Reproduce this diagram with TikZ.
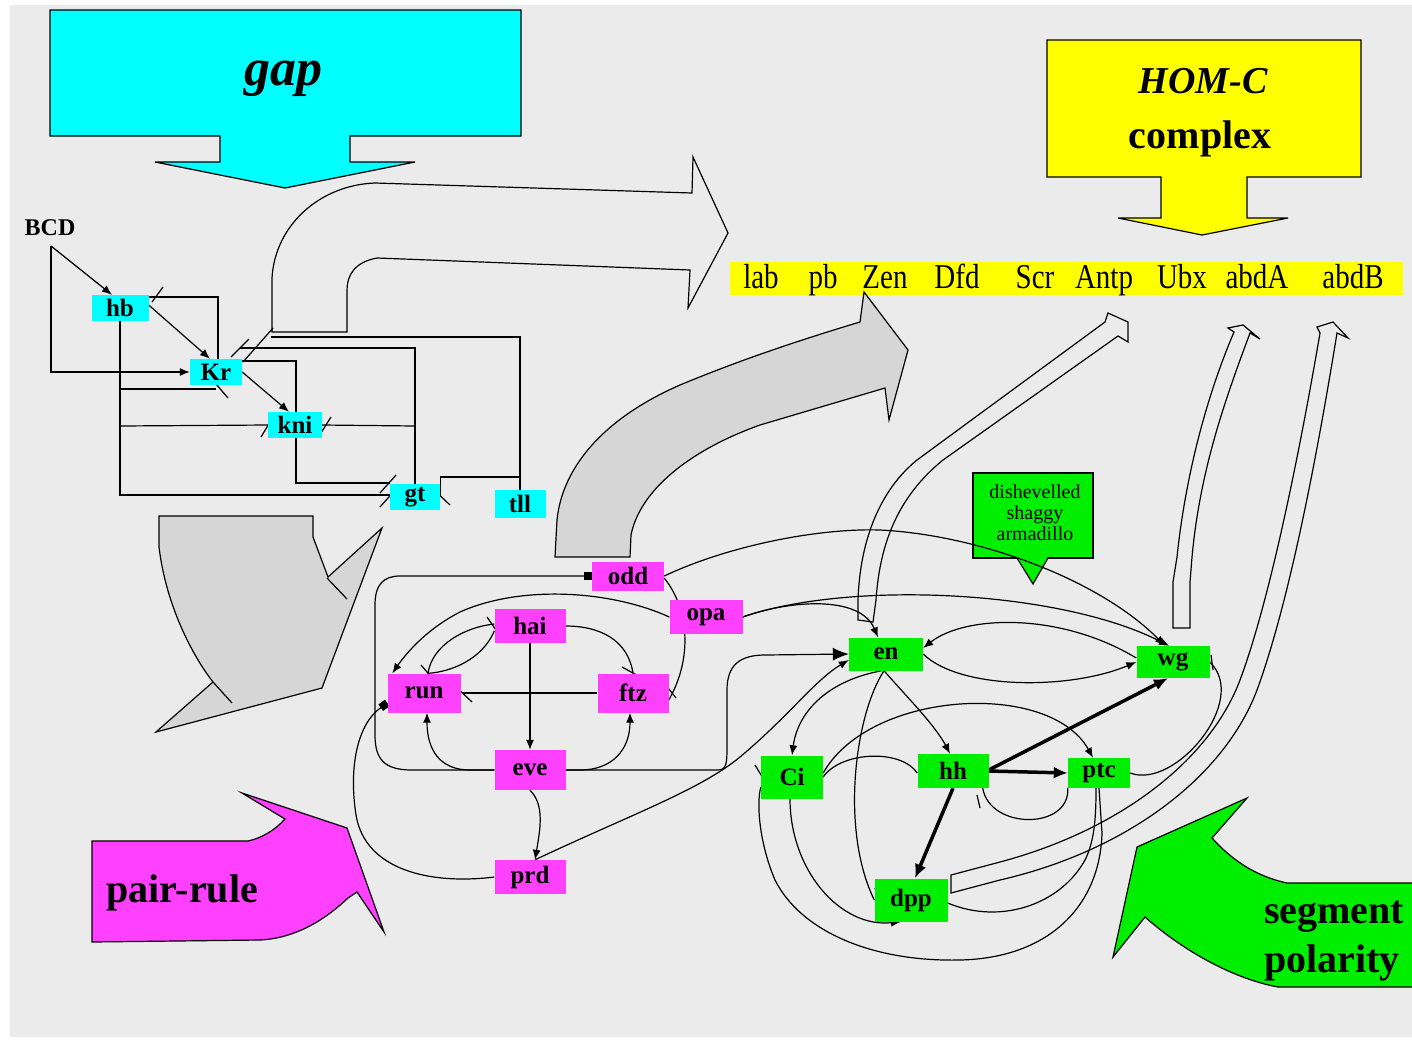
\documentclass[tikz,border=0pt]{standalone}
\usepackage{fontspec}
\setmainfont{Liberation Serif}
\usetikzlibrary{arrows.meta,calc}
\definecolor{bgc}{HTML}{EBEBEB}
\definecolor{cyanc}{HTML}{00FFFF}
\definecolor{yelc}{HTML}{FFFF00}
\definecolor{magc}{HTML}{FF40FF}
\definecolor{grnc}{HTML}{00EE00}
\definecolor{grayc}{HTML}{D6D6D6}
\pgfdeclarelayer{back}
\pgfdeclarelayer{lines}
\pgfsetlayers{back,lines,main}
\newcommand\nfont{\bfseries\fontsize{25}{25}\selectfont}
\newcommand\tallw[1]{\scalebox{1}[1.2]{#1}}
\begin{document}
\begin{tikzpicture}[x=1pt,y=-1pt,
  box/.style 2 args={inner sep=0pt, minimum width=#1, minimum height=#2, font=\nfont},
  gapbox/.style={fill=cyanc},
  prbox/.style={fill=magc},
  spbox/.style={fill=grnc},
  ln/.style={draw=black, line width=1.2pt},
  ar/.style={ln, -{Latex[length=10pt,width=8pt]}},
  bigar/.style={ln, -{Latex[length=16pt,width=13pt]}},
  tar/.style={draw=black, line width=3.5pt, -{Latex[length=14pt,width=12pt]}},
  sq/.style={ln, -{Square[length=8pt,width=8pt]}},
  tk/.style={draw=black, line width=1.2pt},
  shp/.style={draw=black, line width=1.2pt},
  lbl/.style={inner sep=0pt, anchor=base},
]
\useasboundingbox (0,0) rectangle (1412,1039);

% ---------------- nodes ----------------
\node[box={57pt}{26pt},gapbox] (hb) at (120,308) {hb};
\node[box={52pt}{26pt},gapbox] (Kr) at (216,372) {Kr};
\node[box={54pt}{26pt},gapbox] (kni) at (295,425) {kni};
\node[box={50pt}{26pt},gapbox] (gt) at (415,497) {gt};
\node[box={51pt}{28pt},gapbox] (tll) at (520,504) {tll};
\node[lbl, font=\bfseries\fontsize{24}{24}\selectfont] (bcd) at (50,235) {BCD};
\coordinate (bcdc) at (51,246);

\node[box={72pt}{29pt},prbox] (odd) at (628,576) {odd};
\node[box={73pt}{34pt},prbox] (opa) at (706,617) {opa};
\node[box={71pt}{34pt},prbox] (hai) at (530,626) {hai};
\node[box={73pt}{39pt},prbox] (run) at (424,693) {run};
\node[box={71pt}{39pt},prbox] (ftz) at (633,693) {ftz};
\node[box={71pt}{40pt},prbox] (eve) at (530,770) {eve};
\node[box={71pt}{34pt},prbox] (prd) at (530,877) {prd};

\node[box={74pt}{33pt},spbox] (en) at (886,654) {en};
\node[box={73pt}{32pt},spbox] (wg) at (1173,662) {wg};
\node[box={62pt}{43pt},spbox] (Ci) at (792,777) {Ci};
\node[box={71pt}{34pt},spbox] (hh) at (953,771) {hh};
\node[box={62pt}{30pt},spbox] (ptc) at (1099,773) {ptc};
\node[box={73pt}{43pt},spbox] (dpp) at (911,900) {dpp};

% ---------------- background shapes ----------------
\begin{pgfonlayer}{back}
\fill[white] (0,0) rectangle (1412,1039);
\fill[bgc] (10,5) rectangle (1412,1037);
% gap arrow
\draw[shp, fill=cyanc] (50,10) -- (521,10) -- (521,136) -- (350,136) -- (350,162) -- (415,162) -- (285,188) -- (155,162) -- (220,162) -- (220,136) -- (50,136) -- cycle;
\node[lbl, font=\bfseries\itshape\fontsize{52}{52}\selectfont] (gaptxt) at (283,85) {gap};
% HOM-C arrow
\draw[shp, fill=yelc] (1047,40) -- (1361,40) -- (1361,177) -- (1247,177) -- (1247,218) -- (1288,218) -- (1202,235) -- (1118,218) -- (1161,218) -- (1161,177) -- (1047,177) -- cycle;
\node[lbl, font=\bfseries\itshape\fontsize{38}{38}\selectfont] (homc) at (1203,93) {HOM-C};
\node[lbl, font=\bfseries\fontsize{40}{40}\selectfont] (cplx) at (1200,148) {complex};
% yellow bar
\fill[yelc] (730,262) rectangle (1403,295);
\begin{scope}[every node/.style={lbl, font=\fontsize{29}{29}\selectfont}]
\node (lab) at (761,288) {\tallw{lab}};
\node (pb) at (823,288) {\tallw{pb}};
\node (zen) at (885,288) {\tallw{Zen}};
\node (dfd) at (957,288) {\tallw{Dfd}};
\node (scr) at (1035,288) {\tallw{Scr}};
\node (antp) at (1104,288) {\tallw{Antp}};
\node (ubx) at (1182,288) {\tallw{Ubx}};
\node (abda) at (1257,288) {\tallw{abdA}};
\node (abdb) at (1353,288) {\tallw{abdB}};
\end{scope}
% hollow arrow gap -> HOM-C
\draw[shp] (272,332) -- (272,278) .. controls (275,225) and (320,185) .. (375,183) -- (692,193) -- (693,157) -- (728,233) -- (688,308) -- (690,270) -- (377,258) .. controls (355,262) and (347,275) .. (347,290) -- (347,332) -- cycle;
% gray middle arrow
\draw[shp, fill=grayc] (555,557) -- (557,520) .. controls (562,470) and (600,420) .. (680,385) .. controls (740,360) and (800,340) .. (860,322) -- (864,292) -- (908,350) -- (889,420) -- (885,388) -- (760,425) .. controls (690,450) and (640,490) .. (631,535) -- (630,557) -- cycle;
% gray left arrow
\draw[shp, fill=grayc] (159,516) -- (313,516) -- (313,537) -- (328,577) -- (382,528) -- (322,688) -- (156,732) -- (213,682) .. controls (192,655) and (166,605) .. (159,547) -- cycle;
\draw[tk] (327,578) -- (347,599);
\draw[tk] (213,682) -- (232,703);
% pair-rule arrow
\draw[shp, fill=magc] (92,841) -- (248,841) .. controls (262,838) and (275,830) .. (285,819) -- (242,793) -- (347,828) -- (384,932) -- (357,892) -- (348,898) .. controls (330,915) and (300,938) .. (260,940) -- (92,942) -- cycle;
\node[lbl, font=\bfseries\fontsize{40}{40}\selectfont] (prtxt) at (182,902) {pair-rule};
% segment polarity arrow
\draw[shp, fill=grnc] (1412,883) -- (1287,883) .. controls (1255,876) and (1232,860) .. (1212,838) -- (1247,798) -- (1137,847) -- (1113,957) -- (1145,917) .. controls (1180,948) and (1230,978) .. (1278,987) -- (1412,987);
\node[lbl, font=\bfseries\fontsize{40}{40}\selectfont] (segtxt) at (1334,923) {segment};
\node[lbl, font=\bfseries\fontsize{40}{40}\selectfont] (poltxt) at (1332,972) {polarity};
% dishevelled box
\draw[shp, fill=grnc] (973,473) rectangle (1093,558);
\fill[grnc] (1017,556) -- (1048,556) -- (1033,584) -- cycle;
\draw[shp] (1017,558) -- (1033,584) -- (1048,558);
\node[align=center, inner sep=0pt, font=\fontsize{20}{21}\selectfont] (dsa) at (1035,513) {dishevelled\\shaggy\\armadillo};
\end{pgfonlayer}

% ---------------- connectors ----------------
\begin{pgfonlayer}{lines}
% gap network
\draw[ar] (bcdc) -- ([xshift=-8pt]hb.north);
\draw[ar] (bcdc) |- (Kr.west);
\draw[ar] ([yshift=3pt]hb.east) -- ([xshift=-6pt]Kr.north);
\draw[ln] ([xshift=2pt]Kr.north) |- ([yshift=11pt]hb.east);
\draw[tk] (152,302) -- (163,287);
\draw[ar] (Kr.east) -- ([xshift=-6pt]kni.north);
\draw[ln] ([yshift=11pt]Kr.east) -| (296,483) -- ([yshift=14pt]gt.west);
\draw[tk] (380,493) -- (396,475);
\coordinate (hbA) at (120,389);
\coordinate (hbB) at (120,426);
\draw[ln] (hb.south) |- ([yshift=2pt]gt.west);
\draw[tk] (380,507) -- (396,489);
\draw[ln] (hbA) -- (hbA -| Kr.south);
\draw[tk] (216,384) -- (228,398);
\draw[ln] (hbB) -- (kni.west);
\draw[tk] (261,437) -- (273,417);
\coordinate (gtK) at (240,348);
\draw[ln] (gt.north) |- (gtK);
\draw[tk] (231,357) -- (249,339);
\draw[ln] (415,426) -- (kni.east);
\draw[tk] (319,436) -- (331,417);
\coordinate (tllK) at (271,337);
\draw[ln] (tll.north) |- (tllK);
\draw[tk] (243,362) -- (273,328);
\draw[ln] (519,477) -| (gt.east);
\draw[tk] (431,487) -- (450,505);

% pair-rule network
\draw[ar] (hai.south) -- (eve.north);
\draw[ln] (ftz.west) -- ([xshift=2pt]run.east);
\draw[tk] (455,686) -- (472,702);
\draw[ln] (hai.east) .. controls (600,626) and (628,640) .. (ftz.north);
\draw[tk] (622,667) -- (642,678);
\draw[ar] (opa.west) .. controls (610,590) and (520,585) .. (460,612) .. controls (425,630) and (405,655) .. ([xshift=5pt]run.north west);
\draw[ln] ([yshift=-5pt]hai.west) .. controls (482,660) and (450,672) .. ([xshift=4pt]run.north);
\draw[tk] (421,665) -- (433,679);
\draw[ln] ([xshift=4pt]run.north) .. controls (432,645) and (465,627) .. ([yshift=2pt]hai.west);
\draw[tk] (487,617) -- (498,633);
\draw[ar] (eve.west) -- (470,770) .. controls (440,770) and (427,750) .. ([xshift=3pt]run.south);
\draw[ar] (eve.east) -- (580,770) .. controls (612,770) and (630,750) .. ([xshift=-3pt]ftz.south);
\draw[sq] (eve.west) -- (412,770) .. controls (385,770) and (375,760) .. (375,735) -- (375,605) .. controls (375,585) and (383,576) .. (400,576) -- (odd.west);
\draw[bigar] (eve.east) -- (718,770) .. controls (727,770) and (727,762) .. (727,745) -- (727,690) .. controls (727,665) and (740,655) .. (765,655) -- (en.west);
\draw[ar] (eve.south) .. controls (545,805) and (540,830) .. ([xshift=5pt]prd.north);
\draw[sq] (prd.west) .. controls (430,885) and (365,870) .. (356,815) .. controls (349,770) and (356,725) .. ([yshift=-10pt]run.west);
\draw[ar] ([xshift=5pt]prd.north) .. controls (630,815) and (700,790) .. (740,757) .. controls (790,715) and (815,680) .. ([yshift=-6pt]en.west);
\draw[ar] (odd.east) .. controls (730,545) and (820,528) .. (880,530) .. controls (980,535) and (1100,580) .. ([xshift=-8pt]wg.north);
\draw[ln] ([yshift=-2pt]odd.east) .. controls (690,610) and (692,660) .. ([yshift=-7pt]ftz.east);
\draw[tk] (665,684) -- (676,698);
\draw[ar] (opa.east) .. controls (790,600) and (860,595) .. ([xshift=-8pt]en.north);
\draw[ar] (opa.east) .. controls (850,580) and (1060,590) .. ([xshift=-4pt]wg.north);

% segment polarity network
\draw[ar] (en.east) .. controls (960,690) and (1070,690) .. (wg.west);
\draw[ar] ([yshift=4pt]wg.west) .. controls (1060,612) and (965,615) .. ([yshift=6pt]en.east);
\draw[ar] ([xshift=-2pt]en.south) .. controls (905,695) and (935,725) .. ([xshift=-3pt]hh.north);
\draw[ln] ([xshift=-2pt]en.south) .. controls (855,715) and (840,830) .. (dpp.west);
\draw[tk] (875,888) -- (880,904);
\draw[ar] ([xshift=-4pt]en.south) .. controls (830,680) and (798,710) .. (Ci.north);
\draw[tar] (hh.east) -- (ptc.west);
\draw[tar] ([yshift=1pt]hh.east) -- ([xshift=-5pt]wg.south);
\draw[tar] (hh.south) -- ([xshift=4pt]dpp.north);
\draw[ln] (Ci.east) .. controls (840,752) and (900,748) .. ([yshift=-2pt]hh.west);
\draw[tk] (920,760) -- (922,782);
\draw[ar] ([yshift=4pt]Ci.east) .. controls (870,690) and (1050,680) .. ([xshift=-6pt]ptc.north);
\draw[ln] (ptc.south west) .. controls (1070,830) and (990,830) .. ([xshift=-6pt]hh.south east);
\draw[tk] (977,795) -- (980,808);
\draw[ln] (ptc.east) .. controls (1175,790) and (1250,700) .. (wg.east);
\draw[tk] (1211,655) -- (1213,670);
\draw[ln] (ptc.south) -- (1102,833) .. controls (1100,905) and (1050,958) .. (960,960) .. controls (870,962) and (800,930) .. (775,880) .. controls (760,845) and (756,805) .. ([yshift=-10pt]Ci.west);
\draw[tk] (755,765) -- (767,785);
\draw[ar] ([xshift=-2pt]Ci.south) .. controls (790,870) and (840,928) .. ([xshift=-10pt]dpp.south);
\draw[ln] ([yshift=-3pt]dpp.east) .. controls (1000,925) and (1060,905) .. (1085,860) .. controls (1095,840) and (1096,815) .. ([xshift=-3pt]ptc.south);

% hollow arrows to HOM-C
\draw[shp] (858,620) -- (858,600) .. controls (860,540) and (880,490) .. (917,460) -- (1105,322) -- (1108,313) -- (1128,322) -- (1128,342) -- (1118,336) -- (943,460) .. controls (900,495) and (880,540) .. (876,600) -- (873,622) -- cycle;
\draw[shp] (1173,628) -- (1173,582) -- (1177,557) .. controls (1185,480) and (1205,400) .. (1234,332) -- (1228,328) -- (1243,325) -- (1260,339) -- (1250,333) .. controls (1225,400) and (1200,470) .. (1192,557) -- (1190,582) -- (1190,628) -- cycle;
\draw[shp] (951,875) -- (1000,862) .. controls (1120,830) and (1210,760) .. (1240,680) .. controls (1270,600) and (1300,450) .. (1320,333) -- (1317,327) -- (1333,322) -- (1348,338) -- (1337,333) .. controls (1318,450) and (1290,600) .. (1257,690) .. controls (1225,775) and (1130,850) .. (1000,880) -- (951,893) -- cycle;
\end{pgfonlayer}
\end{tikzpicture}
\end{document}
